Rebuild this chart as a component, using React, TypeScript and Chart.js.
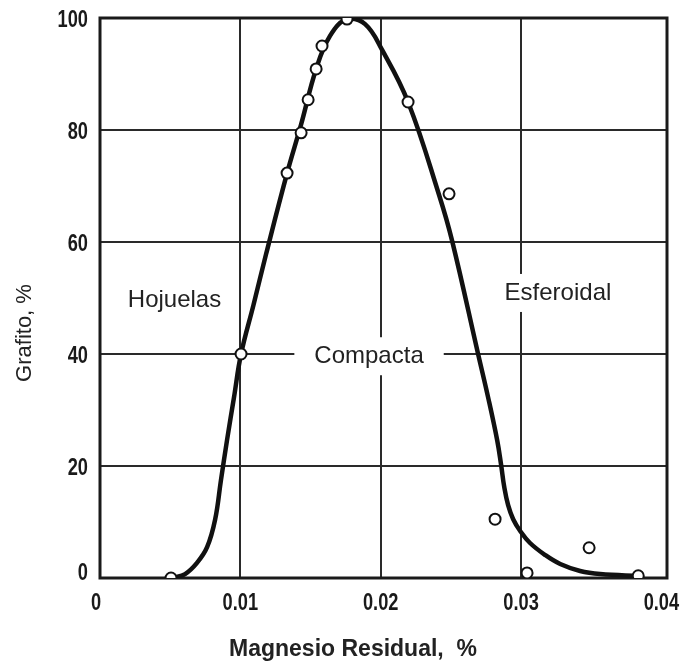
import React, { useEffect, useRef } from "react";
import { Chart, registerables } from "chart.js";

Chart.register(...registerables);

// Measured points (Magnesio residual %, Grafito %)
const pointX = [0.00506, 0.01005, 0.01333, 0.01433, 0.01483, 0.0154, 0.01582, 0.0176, 0.02195, 0.02487, 0.02815, 0.03043, 0.03485, 0.03835];
const pointY = [0, 40, 72.3, 79.5, 85.4, 90.9, 95, 99.8, 85, 68.6, 10.5, 0.9, 5.4, 0.4];

// Fitted curve
const curveX = [0.0052, 0.00606, 0.00691, 0.00763, 0.0082, 0.00862, 0.00905, 0.00955, 0.01005, 0.01094, 0.01183, 0.01333, 0.01433, 0.0154, 0.01639, 0.0176, 0.01889, 0.0201, 0.02195, 0.02416, 0.02509, 0.02694, 0.02765, 0.0283, 0.02858, 0.0288, 0.02908, 0.02944, 0.02994, 0.03064, 0.03172, 0.03279, 0.03421, 0.03564, 0.03849];
const curveY = [0, 0.7, 2.7, 5.5, 10.4, 17.5, 24.6, 32.3, 40, 48.8, 57.8, 72.3, 81.0, 90.9, 96.8, 99.8, 98.9, 94.3, 85, 68.4, 60.2, 40, 32.3, 24.6, 20.2, 16.3, 13.0, 10.5, 8.4, 6.25, 4.1, 2.5, 1.25, 0.7, 0.36];

const xTicks = [0, 0.01, 0.02, 0.03, 0.04];
const xTickLabels = ["0", "0.01", "0.02", "0.03", "0.04"];
const yTicks = [0, 20, 40, 60, 80, 100];
const yTickLabels = ["0", "20", "40", "60", "80", "100"];

const regionLabels = ["Hojuelas", "Compacta", "Esferoidal"];
const regionX = [0.00531, 0.01917, 0.03263];
const regionY = [49.6, 39.6, 50.9];
const regionBoxed = [false, true, true];

const xTitle = "Magnesio Residual,  %";
const yTitle = "Grafito, %";

const TICK_FONT = "bold 24px 'Liberation Sans', Arial, sans-serif";
const TICK_SQUEEZE = 0.76;

const overlayPlugin = {
  id: "overlay",
  beforeDatasetsDraw(chart: any) {
    const { ctx, chartArea, scales } = chart;
    ctx.save();
    ctx.strokeStyle = "#1a1a1a";
    ctx.lineWidth = 3;
    ctx.strokeRect(chartArea.left, chartArea.top, chartArea.right - chartArea.left, chartArea.bottom - chartArea.top);
    ctx.font = "24px 'Liberation Sans', Arial, sans-serif";
    ctx.textAlign = "center";
    ctx.textBaseline = "middle";
    regionLabels.forEach((t, i) => {
      const px = scales.x.getPixelForValue(regionX[i]);
      const py = scales.y.getPixelForValue(regionY[i]);
      if (regionBoxed[i]) {
        const w = ctx.measureText(t).width;
        ctx.fillStyle = "#ffffff";
        ctx.fillRect(px - w / 2 - 20, py - 19, w + 40, 38);
      }
      ctx.fillStyle = "#222222";
      ctx.fillText(t, px, py);
    });
    ctx.restore();
  },
  afterDraw(chart: any) {
    const { ctx, scales, chartArea } = chart;
    ctx.save();
    ctx.fillStyle = "#1a1a1a";
    ctx.font = TICK_FONT;
    ctx.textBaseline = "middle";
    ctx.textAlign = "right";
    yTicks.forEach((v, i) => {
      const py = scales.y.getPixelForValue(v) + (v === 0 ? -5 : 2);
      ctx.save();
      ctx.translate(chartArea.left - 12, py);
      ctx.scale(TICK_SQUEEZE, 1);
      ctx.fillText(yTickLabels[i], 0, 0);
      ctx.restore();
    });
    ctx.textAlign = "center";
    xTicks.forEach((v, i) => {
      const px = scales.x.getPixelForValue(v) + (v === 0 ? -4 : 0);
      ctx.save();
      ctx.translate(px, chartArea.bottom + 25);
      ctx.scale(TICK_SQUEEZE, 1);
      ctx.fillText(xTickLabels[i], 0, 0);
      ctx.restore();
    });
    ctx.restore();

    ctx.save();
    ctx.fillStyle = "#222222";
    ctx.textAlign = "center";
    ctx.textBaseline = "middle";
    ctx.font = "bold 23px 'Liberation Sans', Arial, sans-serif";
    ctx.fillText(xTitle, 353, 650);
    ctx.translate(25, 333);
    ctx.rotate(-Math.PI / 2);
    ctx.font = "22px 'Liberation Sans', Arial, sans-serif";
    ctx.fillText(yTitle, 0, 0);
    ctx.restore();
  },
};

const zeroPad = (s: any) => {
  s.paddingLeft = 0;
  s.paddingRight = 0;
  s.paddingTop = 0;
  s.paddingBottom = 0;
};

export default function App() {
  const ref = useRef<HTMLCanvasElement | null>(null);
  useEffect(() => {
    document.body.style.margin = "0";
    if (!ref.current) return;
    const chart = new Chart(ref.current, {
      type: "scatter",
      data: {
        datasets: [
          {
            label: "points",
            data: pointX.map((x, i) => ({ x, y: pointY[i] })),
            pointRadius: 5.5,
            pointBackgroundColor: "#ffffff",
            pointBorderColor: "#111111",
            pointBorderWidth: 2,
            showLine: false,
          },
          {
            label: "curve",
            data: curveX.map((x, i) => ({ x, y: curveY[i] })),
            showLine: true,
            borderColor: "#111111",
            borderWidth: 4.5,
            pointRadius: 0,
            tension: 0.4,
            fill: false,
          } as any,
        ],
      },
      options: {
        responsive: false,
        animation: false,
        devicePixelRatio: 1,
        layout: { padding: { top: 18, right: 19, left: 0, bottom: 0 } },
        plugins: { legend: { display: false }, tooltip: { enabled: false } },
        scales: {
          x: {
            type: "linear",
            min: 0,
            max: 0.0404,
            afterFit: (s: any) => { s.height = 87; zeroPad(s); },
            afterBuildTicks: (s: any) => { s.ticks = xTicks.map((v) => ({ value: v })); },
            ticks: { display: false },
            grid: {
              drawTicks: false,
              lineWidth: 2,
              color: (c: any) => (c.tick && c.tick.value === 0.04 ? "rgba(0,0,0,0)" : "#2a2a2a"),
            },
            border: { display: false },
          },
          y: {
            type: "linear",
            min: 0,
            max: 100,
            afterFit: (s: any) => { s.width = 100; zeroPad(s); },
            afterBuildTicks: (s: any) => { s.ticks = yTicks.map((v) => ({ value: v })); },
            ticks: { display: false },
            grid: { drawTicks: false, lineWidth: 2, color: "#2a2a2a" },
            border: { display: false },
          },
        },
      },
      plugins: [overlayPlugin],
    });
    return () => chart.destroy();
  }, []);
  return (
    <div style={{ width: 686, height: 665, background: "#fff" }}>
      <canvas ref={ref} width={686} height={665} />
    </div>
  );
}
